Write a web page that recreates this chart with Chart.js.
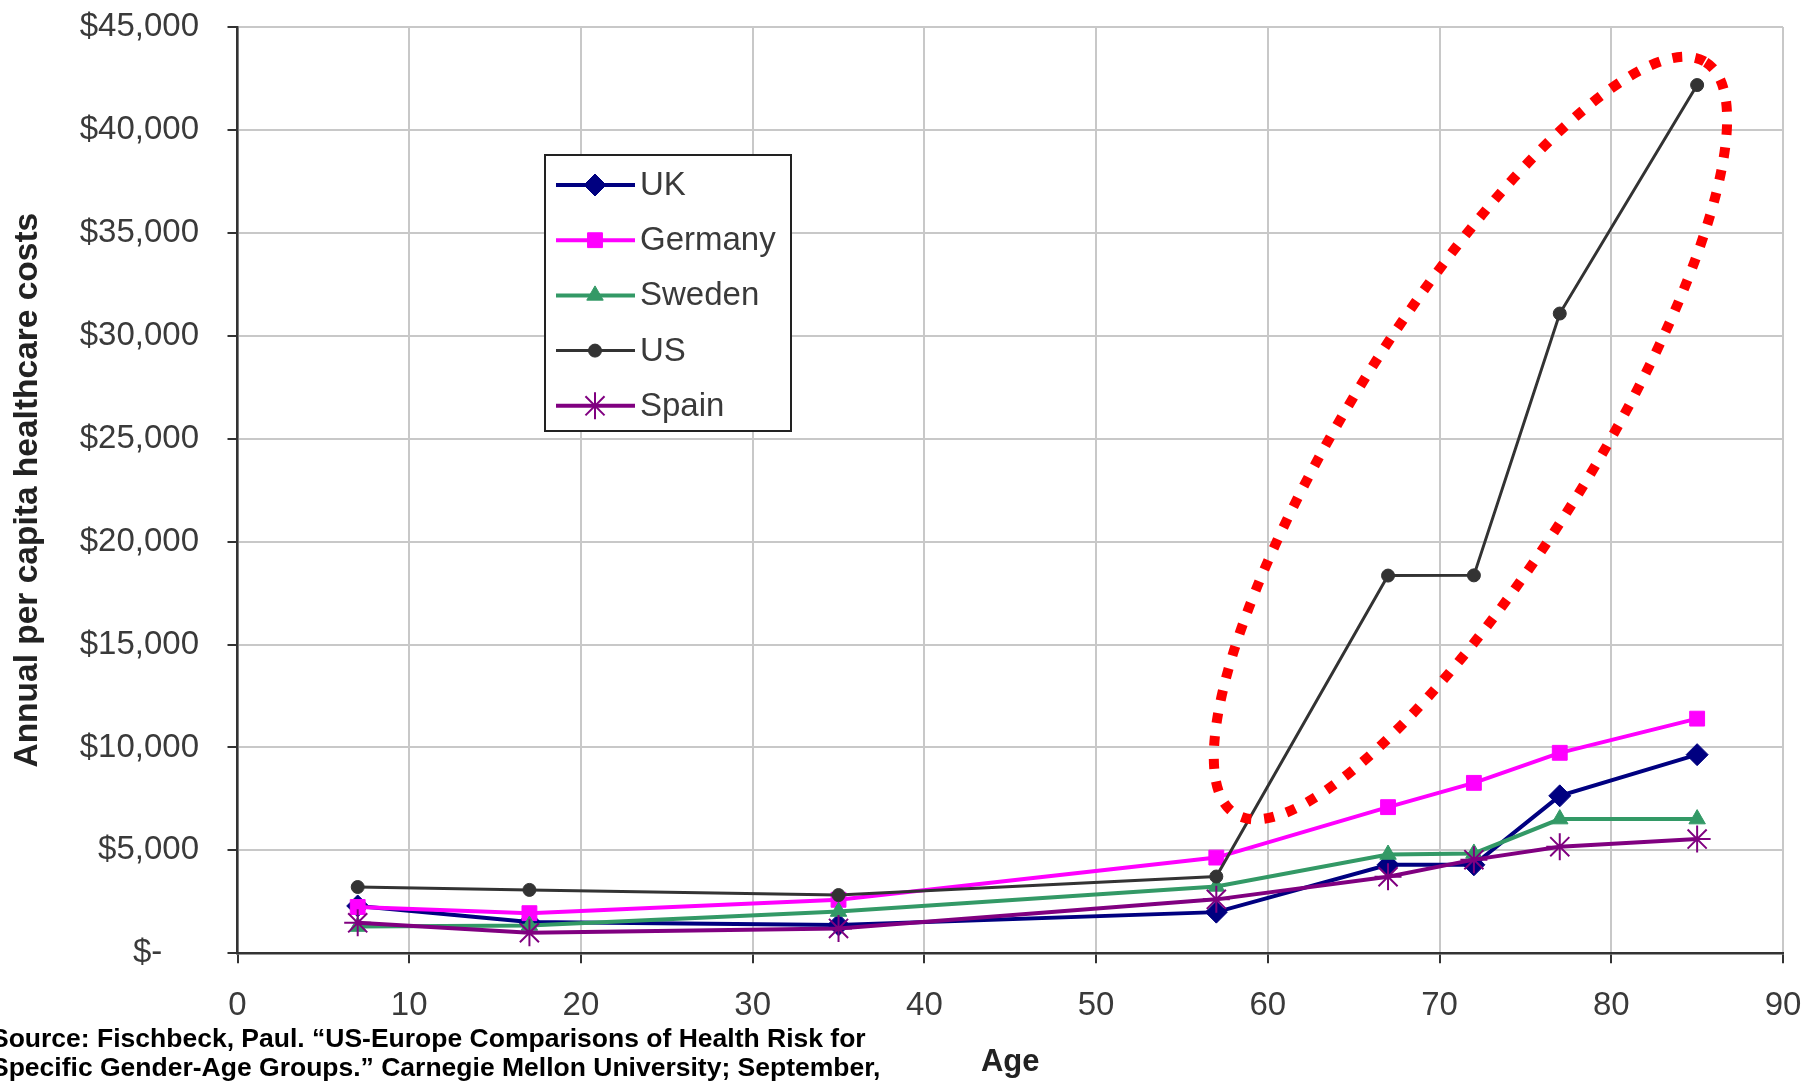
<!DOCTYPE html>
<html>
<head>
<meta charset="utf-8">
<title>Annual per capita healthcare costs by age</title>
<script src="https://cdn.jsdelivr.net/npm/chart.js@4.4.1/dist/chart.umd.min.js"></script>
<style>
    html, body { margin: 0; padding: 0; background: #fff; }
    #wrap { position: relative; width: 1814px; height: 1081px; overflow: hidden; }
    #source {
        position: absolute; left: -9px; top: 1024px;
        font: bold 26.5px 'Liberation Sans', Arial, sans-serif;
        line-height: 29px; color: #000; white-space: nowrap;
    }
</style>
</head>
<body>
<div id="wrap">
    <canvas id="costChart"></canvas>
    <div id="source">Source: Fischbeck, Paul. “US-Europe Comparisons of Health Risk for<br>Specific Gender-Age Groups.” Carnegie Mellon University; September,</div>
</div>
<script>
/*
 * Annual per capita healthcare costs by age, five countries.
 * Values.
 */

// ages of each group (x values)
const ages = [7, 17, 35, 57, 67, 72, 77, 85];

// per capita cost in dollars, one array per country
const ukCosts      = [2300, 1520, 1380, 2000, 4300, 4300, 7650, 9650];
const germanyCosts = [2250, 1950, 2600, 4650, 7100, 8280, 9740, 11400];
const swedenCosts  = [1300, 1350, 2030, 3250, 4800, 4850, 6520, 6520];
const usCosts      = [3220, 3080, 2830, 3730, 18350, 18360, 31080, 42180];
const spainCosts   = [1480, 1000, 1210, 2620, 3720, 4550, 5180, 5550];

const countries = ['UK', 'Germany', 'Sweden', 'US', 'Spain'];

// axis ranges
const ageMin = 0, ageMax = 90, ageStep = 10;
const costMin = 0, costMax = 45000, costStep = 5000;

// red dotted ring round the US jump: two ends of its long axis (age, $) and half width in years
const ringLow = [58.1, 6770];
const ringHigh = [85.5, 43290];
const ringHalfWidth = 7.05;

const FONT = "'Liberation Sans', Arial, sans-serif";

const seriesStyles = [
    { color: '#000080', pointStyle: 'rectRot', radius: 11, pointBorder: 1, line: 4 },
    { color: '#ff00ff', pointStyle: 'rect', radius: 10.5, pointBorder: 1, line: 4 },
    { color: '#339966', pointStyle: 'triangle', radius: 9.5, pointBorder: 1, line: 4 },
    { color: '#333333', pointStyle: 'circle', radius: 6.5, pointBorder: 1, line: 3 },
    { color: '#800080', pointStyle: 'star', radius: 13.5, pointBorder: 2, line: 4 }
];

const seriesValues = [ukCosts, germanyCosts, swedenCosts, usCosts, spainCosts];

/**
 * Draws the boxed legend inside the plot, like the Excel one.
 */
const boxLegend = {
    id: 'boxLegend',
    afterDraw(chart) {
        const ctx = chart.ctx;
        const left = 545, top = 155, width = 246, height = 276;
        ctx.save();
        ctx.fillStyle = '#fff';
        ctx.fillRect(left, top, width, height);
        ctx.strokeStyle = '#222';
        ctx.lineWidth = 2;
        ctx.strokeRect(left, top, width, height);

        chart.data.datasets.forEach((ds, i) => {
            const y = top + 30 + i * 55.2;
            ctx.strokeStyle = ds.borderColor;
            ctx.lineWidth = ds.borderWidth;
            ctx.beginPath();
            ctx.moveTo(left + 11, y);
            ctx.lineTo(left + 90, y);
            ctx.stroke();

            ctx.fillStyle = ds.pointBackgroundColor;
            ctx.strokeStyle = ds.pointBorderColor;
            ctx.lineWidth = ds.pointBorderWidth;
            if (Chart.helpers && Chart.helpers.drawPoint) {
                Chart.helpers.drawPoint(ctx, {
                    pointStyle: ds.pointStyle,
                    radius: ds.pointRadius,
                    rotation: 0,
                    borderWidth: ds.pointBorderWidth
                }, left + 50, y);
            }

            ctx.fillStyle = '#3a3a3a';
            ctx.font = '33px ' + FONT;
            ctx.textAlign = 'left';
            ctx.textBaseline = 'middle';
            ctx.fillText(ds.label, left + 95, y + 1);
        });
        ctx.restore();
    }
};

/**
 * Draws the red dotted ellipse, placed in data units through the scales.
 */
const dottedRing = {
    id: 'dottedRing',
    afterDatasetsDraw(chart) {
        const xs = chart.scales.x, ys = chart.scales.y;
        const x1 = xs.getPixelForValue(ringLow[0]), y1 = ys.getPixelForValue(ringLow[1]);
        const x2 = xs.getPixelForValue(ringHigh[0]), y2 = ys.getPixelForValue(ringHigh[1]);
        const a = Math.hypot(x2 - x1, y2 - y1) / 2;
        const b = xs.getPixelForValue(ringHalfWidth) - xs.getPixelForValue(0);
        const rot = Math.atan2(y2 - y1, x2 - x1);
        const ctx = chart.ctx;
        ctx.save();
        ctx.strokeStyle = '#ff0000';
        ctx.lineWidth = 10;
        ctx.setLineDash([10, 13]);
        ctx.lineCap = 'butt';
        ctx.beginPath();
        ctx.ellipse((x1 + x2) / 2, (y1 + y2) / 2, a, b, rot, 0, Math.PI * 2);
        ctx.stroke();
        ctx.restore();
    }
};

function buildDatasets() {
    return countries.map((name, i) => {
        const st = seriesStyles[i];
        return {
            label: name,
            data: ages.map((age, k) => ({ x: age, y: seriesValues[i][k] })),
            borderColor: st.color,
            backgroundColor: st.color,
            pointBackgroundColor: st.color,
            pointBorderColor: st.color,
            pointStyle: st.pointStyle,
            pointRadius: st.radius,
            pointBorderWidth: st.pointBorder,
            borderWidth: st.line,
            tension: 0,
            // Excel draws later series on top
            order: countries.length - i
        };
    });
}

function renderCostChart() {
    const ctx = document.getElementById('costChart');
    new Chart(ctx, {
        type: 'line',
        data: { datasets: buildDatasets() },
        plugins: [dottedRing, boxLegend],
        options: {
            responsive: true,
            maintainAspectRatio: false,
            animation: false,
            layout: { padding: { left: 0, right: 31, top: 27, bottom: 0 } },
            plugins: {
                legend: { display: false },
                tooltip: { enabled: false }
            },
            scales: {
                x: {
                    type: 'linear',
                    min: ageMin,
                    max: ageMax,
                    afterFit: (s) => {
                        s.height = 127.7;
                        // keep tick padding from widening the side margins
                        s.paddingLeft = 0;
                        s.paddingRight = 20;
                    },
                    ticks: {
                        stepSize: ageStep,
                        color: '#3a3a3a',
                        padding: 23,
                        font: { family: FONT, size: 33 }
                    },
                    grid: { color: '#c8c8c8', lineWidth: 2, tickColor: '#333', tickLength: 10 },
                    border: { color: '#333', width: 2.5 },
                    title: {
                        display: true,
                        text: 'Age',
                        color: '#222',
                        padding: { top: 0, bottom: 0 },
                        font: { family: FONT, size: 31, weight: 'bold' }
                    }
                },
                y: {
                    min: costMin,
                    max: costMax,
                    afterFit: (s) => {
                        s.width = 237.5;
                        s.paddingTop = 20;
                        s.paddingBottom = 20;
                    },
                    ticks: {
                        stepSize: costStep,
                        color: '#3a3a3a',
                        padding: 28.5,
                        font: { family: FONT, size: 33 },
                        callback: (v) => v === 0 ? '$-    ' : '$' + v.toLocaleString('en-US')
                    },
                    grid: { color: '#c8c8c8', lineWidth: 2, tickColor: '#333', tickLength: 10 },
                    border: { color: '#333', width: 2.5 },
                    title: {
                        display: true,
                        text: 'Annual per capita healthcare costs',
                        color: '#222',
                        padding: { top: 8, bottom: 0 },
                        font: { family: FONT, size: 33.5, weight: 'bold' }
                    }
                }
            }
        }
    });
}

document.addEventListener('DOMContentLoaded', renderCostChart);
</script>
</body>
</html>
